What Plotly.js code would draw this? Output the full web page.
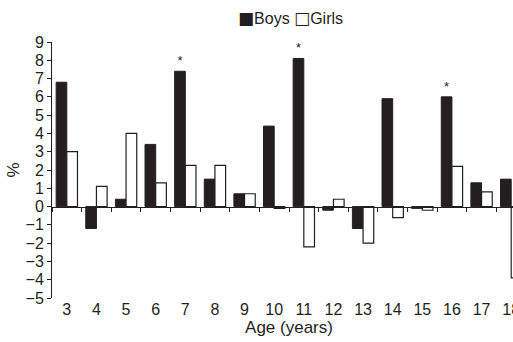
<!DOCTYPE html>
<html>
<head>
<meta charset="utf-8">
<script src="https://cdn.plot.ly/plotly-3.0.1.min.js"></script>
<style>
html,body{margin:0;padding:0;overflow:hidden;background:#fff;width:513px;height:342px;}
#chart{width:540px;height:342px;}
</style>
</head>
<body>
<div id="chart"></div>
<script>
const ages = [3,4,5,6,7,8,9,10,11,12,13,14,15,16,17,18];
const boys = [6.8,-1.2,0.4,3.4,7.4,1.5,0.7,4.4,8.1,-0.2,-1.2,5.9,-0.1,6.0,1.3,1.5];
const girls = [3.0,1.1,4.0,1.3,2.25,2.25,0.7,-0.1,-2.2,0.4,-2.0,-0.6,-0.2,2.2,0.8,-3.9];
const boysSig = ["","","","","*","","","","*","","","","","*","",""];
const yTicks = [-5,-4,-3,-2,-1,0,1,2,3,4,5,6,7,8,9];
const seriesNames = ["Boys","Girls"];

const font = "Liberation Sans, Arial, sans-serif";
const ink = '#231f20';
const traces = [
  {type:'bar', name:seriesNames[0], x:ages, y:boys, text:boysSig, textposition:'outside',
   textfont:{size:13,color:ink,family:font}, cliponaxis:false,
   marker:{color:ink, line:{color:ink, width:1}}},
  {type:'bar', name:seriesNames[1], x:ages, y:girls,
   marker:{color:'#ffffff', line:{color:ink, width:1.2}}}
];
traces.push({type:'scatter', x:[ages[0]], y:[0], xaxis:'x2', mode:'markers',
  marker:{opacity:0}, showlegend:false, hoverinfo:'skip'});

const sq = (c) => '<span style="font-family:DejaVu Sans;font-size:17px">' + c + '</span>';
const layout = {
  width:540, height:342,
  margin:{l:52, r:14, t:42, b:44},
  paper_bgcolor:'#fff', plot_bgcolor:'#fff',
  font:{family:font, color:ink, size:14},
  barmode:'group', bargap:0.28, bargroupgap:0,
  showlegend:false,
  annotations:[{xref:'paper', yref:'paper', x:0.504, y:1.094, xanchor:'center', yanchor:'middle',
    showarrow:false, text: sq('\u25A0') + seriesNames[0] + ' ' + sq('\u25A1') + seriesNames[1],
    font:{size:16, color:ink, family:font}}],
  xaxis:{type:'linear', range:[2.5,18.5], tickvals:ages, ticktext:ages.map(String),
         ticks:'', showline:false, showgrid:false, zeroline:false,
         tickfont:{size:16}, title:{text:'Age (years)', font:{size:17}, standoff:4}},
  xaxis2:{type:'linear', overlaying:'x', anchor:'free', position:5/14, side:'bottom',
          range:[2.5,18.5], tick0:2.5, dtick:1, ticks:'outside', ticklen:4, tickwidth:1,
          tickcolor:ink, showticklabels:false, showline:true, linecolor:ink,
          linewidth:1, showgrid:false, zeroline:false},
  yaxis:{range:[-5,9], tickvals:yTicks, ticks:'outside', ticklen:4, tickcolor:ink,
         showline:true, linecolor:ink, linewidth:1, showgrid:false, zeroline:false,
         tickfont:{size:16}, title:{text:'%', font:{size:17}, standoff:1}}
};
Plotly.newPlot('chart', traces, layout, {staticPlot:true, displayModeBar:false});
</script>
</body>
</html>
